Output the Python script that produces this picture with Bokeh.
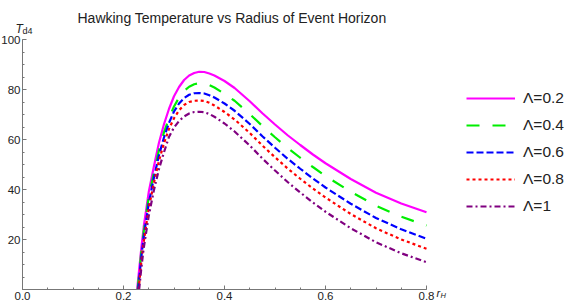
from bokeh.plotting import figure
from bokeh.models import Label, Legend, LegendItem, FixedTicker, Range1d
from bokeh.embed import file_html
from bokeh.resources import INLINE

# ---- data ----
x_pts = [0.235, 0.24, 0.25, 0.26, 0.27, 0.28, 0.29, 0.30, 0.31, 0.32, 0.33, 0.34, 0.35, 0.36, 0.37, 0.38,
         0.40, 0.42, 0.45, 0.475, 0.50, 0.525, 0.55, 0.575, 0.60, 0.65, 0.70, 0.75, 0.80]

lam02_x = [0.227] + x_pts
lam02_y = [0, 16, 25, 39, 49, 58.5, 66, 72.2, 77.3, 81, 83.8, 85.6, 86.6, 87.1, 87.0, 86.4, 85.6,
           83.4, 80.6, 75.3, 70.5, 66.0, 61.7, 57.8, 54.0, 50.5, 44.2, 38.7, 34.4, 30.9]

lam04_x = [0.228] + x_pts
lam04_y = [0, 14.5, 23, 37, 46.5, 55.5, 62.8, 68.5, 73.2, 76.8, 79.4, 81.1, 82.1, 82.5, 82.4, 81.8, 80.8,
           78.3, 75.5, 70.2, 65.4, 60.9, 56.6, 52.7, 49.0, 45.4, 39.1, 33.5, 29.1, 25.6]

lam06_x = [0.229] + x_pts
lam06_y = [0, 12.5, 21, 34.5, 44.5, 53.5, 60.7, 66.6, 71.2, 74.4, 76.6, 77.9, 78.5, 78.6, 78.4, 77.7, 76.8,
           74.4, 71.5, 66.2, 61.3, 56.7, 52.3, 48.3, 44.4, 40.8, 34.3, 28.6, 24.1, 20.3]

lam08_x = [0.230] + x_pts
lam08_y = [0, 10.5, 19, 32.5, 42.5, 51.3, 58.4, 64.2, 68.5, 71.7, 73.8, 75.0, 75.5, 75.6, 75.4, 74.7, 73.6,
           71.0, 68.0, 62.6, 57.6, 52.9, 48.4, 44.3, 40.4, 36.8, 30.2, 24.5, 20.0, 16.3]

lam10_x = [0.231] + x_pts
lam10_y = [0, 8, 16.5, 29.5, 39.5, 48, 54.8, 61, 64.8, 67.4, 69.2, 70.4, 71.0, 71.1, 70.9, 70.2, 69.1,
           66.4, 63.2, 57.6, 52.4, 47.6, 43.0, 38.8, 34.8, 31.1, 24.5, 18.9, 14.5, 10.9]

labels = ["Λ=0.2", "Λ=0.4", "Λ=0.6", "Λ=0.8", "Λ=1"]
x_ticks = [0, 0.2, 0.4, 0.6, 0.8]
x_tick_labels = ["0.0", "0.2", "0.4", "0.6", "0.8"]
y_ticks = [20, 40, 60, 80, 100]

FONT = "Liberation Sans"
W, H = 575, 305
X0_PX, X_SCALE = 22, 505.0    # pixel of x=0, pixels per unit
Y0_PX, Y_SCALE = 289, 2.5     # pixel of y=0 (from top), pixels per unit

p = figure(width=W, height=H, output_backend="svg", toolbar_location=None,
           x_range=Range1d(-X0_PX / X_SCALE, (W - X0_PX) / X_SCALE),
           y_range=Range1d(-(H - Y0_PX) / Y_SCALE, Y0_PX / Y_SCALE),
           min_border=0)
p.outline_line_color = None
p.grid.visible = False
p.background_fill_color = "white"
p.border_fill_color = "white"

styles = [
    ("#FF00FF", "solid"),
    ("#00EE00", "13 13"),
    ("#0000FF", "7 3"),
    ("#FF0000", "3 3"),
    ("#800080", "6 3 2 3"),
]
series = [(lam02_x, lam02_y), (lam04_x, lam04_y), (lam06_x, lam06_y), (lam08_x, lam08_y), (lam10_x, lam10_y)]
items = []
for (xs, ys), (col, dash), lab in zip(series, styles, labels):
    r = p.line(xs, ys, line_color=col, line_width=2.2, line_dash=dash)
    items.append(LegendItem(label=lab, renderers=[r]))

# axes drawn at x=0 / y=0 inside the canvas
for ax in (p.xaxis[0], p.yaxis[0]):
    ax.fixed_location = 0
    ax.axis_line_color = "#777777"
    ax.major_tick_line_color = "#777777"
    ax.minor_tick_line_color = "#777777"
    ax.major_tick_in = 4
    ax.major_tick_out = 0
    ax.minor_tick_in = 2
    ax.minor_tick_out = 0
    ax.major_label_text_font = FONT
    ax.major_label_text_font_size = "11.5px"
    ax.major_label_text_color = "#222222"
    ax.major_label_standoff = 2

p.xaxis.bounds = (0, 0.8)
p.yaxis.bounds = (0, 100)
p.xaxis.ticker = FixedTicker(ticks=x_ticks, minor_ticks=[i * 0.05 for i in range(17)])
p.xaxis.major_label_overrides = {t: s for t, s in zip(x_ticks, x_tick_labels)}
p.yaxis.ticker = FixedTicker(ticks=y_ticks, minor_ticks=[i * 5 for i in range(21)])

# legend
leg = Legend(items=items, location=(466, 89), border_line_color=None, background_fill_alpha=0,
             label_text_font=FONT, label_text_font_size="15.5px", label_text_color="#222222",
             glyph_width=49, glyph_height=20, label_height=20, spacing=7, padding=0, margin=0,
             label_standoff=8)
p.add_layout(leg, "center")

# title and axis labels
p.add_layout(Label(x=0, y=100, x_offset=55, y_offset=21.7, text="Hawking Temperature vs Radius of Event Horizon",
                   text_font=FONT, text_font_size="14px", text_color="#222222", text_baseline="alphabetic"))
p.add_layout(Label(x=0, y=100, x_offset=-7, y_offset=11, text="T", text_font=FONT, text_font_style="italic",
                   text_font_size="12px", text_color="#222222", text_baseline="alphabetic"))
p.add_layout(Label(x=0, y=100, x_offset=0, y_offset=8.5, text="d4", text_font=FONT,
                   text_font_size="9px", text_color="#222222", text_baseline="alphabetic"))
p.add_layout(Label(x=0.8, y=0, x_offset=10, y_offset=-3, text="r", text_font=FONT, text_font_style="italic",
                   text_font_size="11px", text_color="#222222", text_baseline="alphabetic"))
p.add_layout(Label(x=0.8, y=0, x_offset=14, y_offset=-5.5, text="H", text_font=FONT, text_font_style="italic",
                   text_font_size="7.5px", text_color="#222222", text_baseline="alphabetic"))

open("out.html", "w").write(file_html(p, INLINE))
